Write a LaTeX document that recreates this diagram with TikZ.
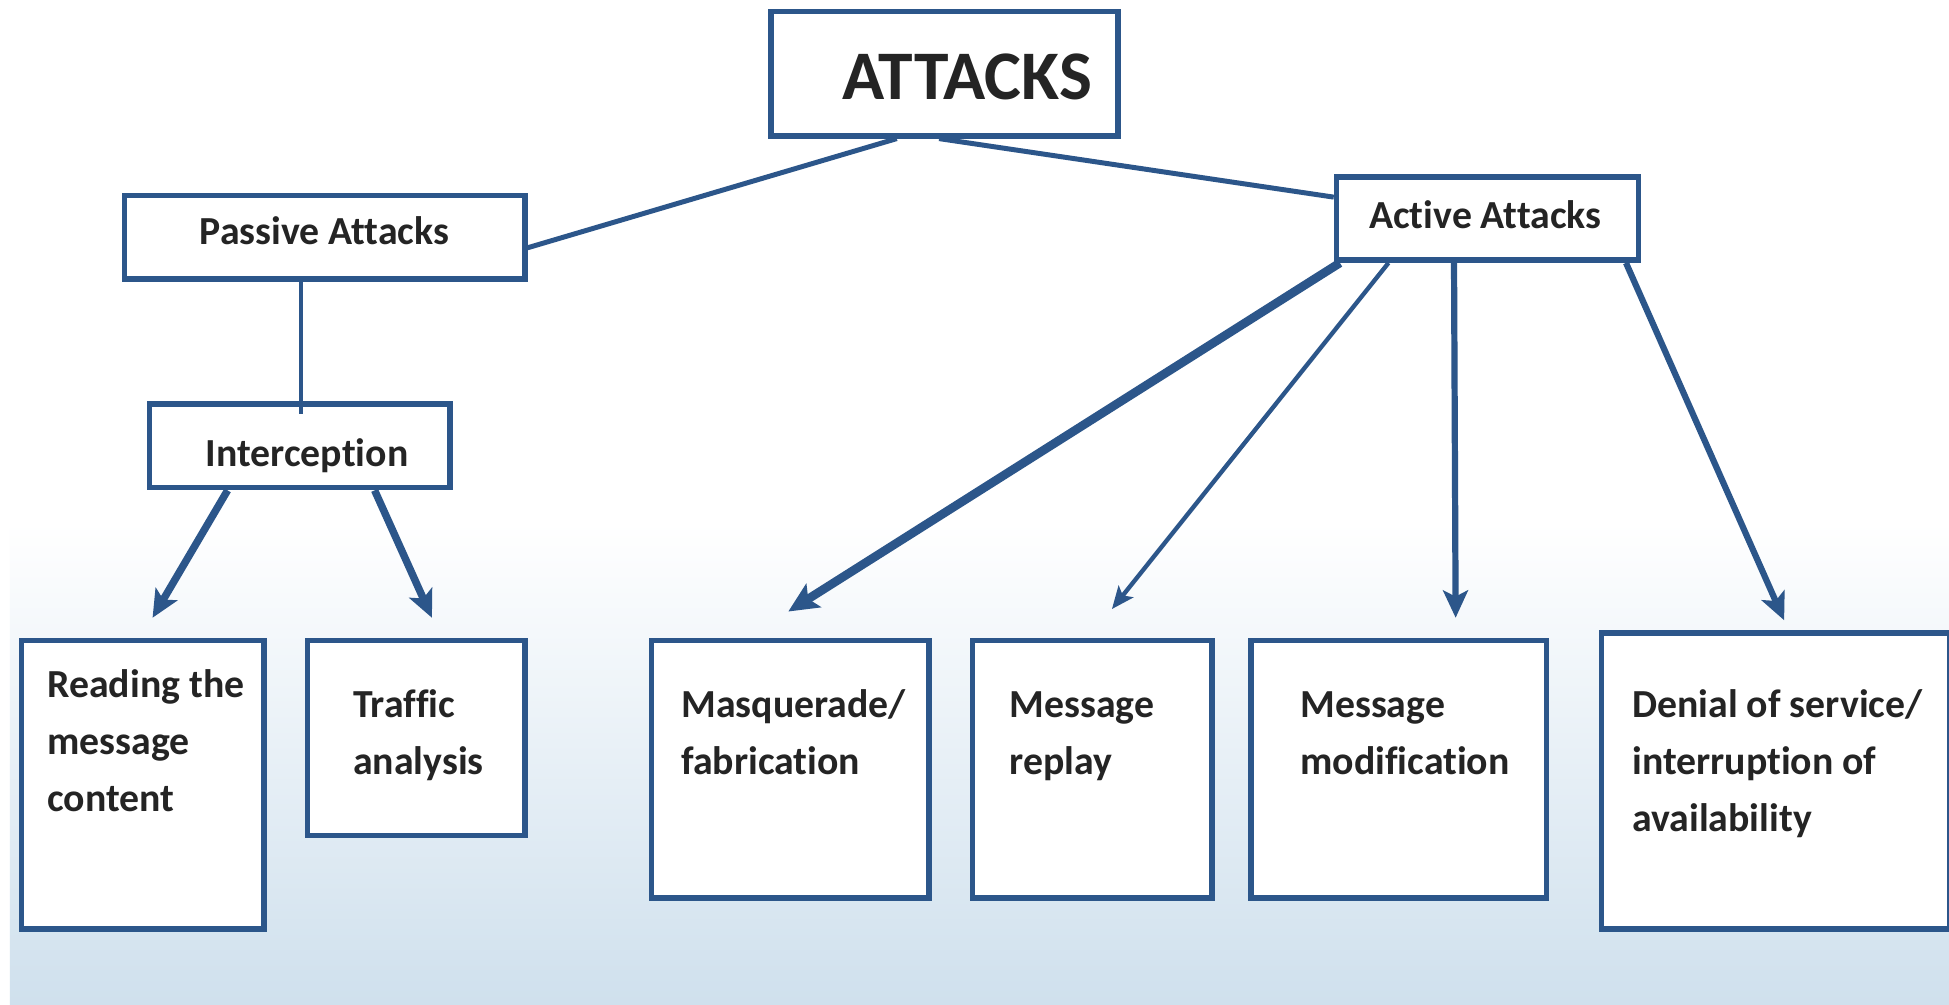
\documentclass[tikz,border=0pt]{standalone}
\usepackage{fontspec}
\setmainfont[Ligatures=NoCommon]{Carlito}
\usetikzlibrary{arrows.meta,calc}
\definecolor{boxblue}{RGB}{44,86,138}
\definecolor{bgblue}{RGB}{207,224,237}
\definecolor{txtgray}{RGB}{36,36,36}
\begin{document}
\begin{tikzpicture}[x=1pt,y=-1pt,
  box/.style={draw=boxblue,line width=4.5pt,fill=white,anchor=north west,inner sep=0pt},
  lbl/.style={text=txtgray,font=\bfseries\fontsize{32}{46}\selectfont,inner sep=0pt},
  link/.style={draw=boxblue,line width=4pt},
  arr/.style={draw=boxblue,-{Stealth[length=22pt,width=20pt,inset=5pt]}}]
\useasboundingbox (0,0) rectangle (1568,808);
\fill[white] (0,0) rectangle (1568,808);
\shade[top color=white,bottom color=bgblue] (8,420) rectangle (1568,808);
% boxes
\node[box,minimum width=279pt,minimum height=100pt] (att) at (618,7) {};
\node[box,minimum width=322pt,minimum height=67pt] (pas) at (98,155) {};
\node[box,minimum width=243pt,minimum height=67pt] (act) at (1073,140) {};
\node[box,minimum width=242pt,minimum height=67pt] (int) at (118,323) {};
\node[box,minimum width=195pt,minimum height=232pt] (rd) at (15,513) {};
\node[box,minimum width=175pt,minimum height=157pt] (tr) at (245,513) {};
\node[box,minimum width=223pt,minimum height=207pt] (mq) at (522,513) {};
\node[box,minimum width=193pt,minimum height=207pt] (rp) at (780,513) {};
\node[box,minimum width=238pt,minimum height=207pt] (md) at (1004,513) {};
\node[box,minimum width=280pt,minimum height=238pt] (dos) at (1286,507) {};
% texts
\node[lbl,font=\bfseries\fontsize{56}{60}\selectfont,anchor=base] (attT) at (778,80) {ATTACKS};
\node[lbl,anchor=base] (pasT) at (261,197) {Passive Attacks};
\node[lbl,anchor=base] (actT) at (1195,184) {Active Attacks};
\node[lbl,anchor=base] (intT) at (247,375) {Interception};
\node[lbl,anchor=base west] (rdT) at (38,561) {\begin{tabular}[t]{@{}l@{}}Reading the\\message\\content\end{tabular}};
\node[lbl,anchor=base west] (trT) at (284,577) {\begin{tabular}[t]{@{}l@{}}Traffic\\analysis\end{tabular}};
\node[lbl,anchor=base west] (mqT) at (548,577) {\begin{tabular}[t]{@{}l@{}}Masquerade/\\fabrication\end{tabular}};
\node[lbl,anchor=base west] (rpT) at (812,577) {\begin{tabular}[t]{@{}l@{}}Message\\replay\end{tabular}};
\node[lbl,anchor=base west] (mdT) at (1046,577) {\begin{tabular}[t]{@{}l@{}}Message\\modification\end{tabular}};
\node[lbl,anchor=base west] (dosT) at (1313,577) {\begin{tabular}[t]{@{}l@{}}Denial of service/\\interruption of\\availability\end{tabular}};
% connectors
\draw[link] ($(att.south west)!0.365!(att.south east)$) -- ($(pas.north east)!0.62!(pas.south east)$);
\draw[link] ($(att.south west)!0.485!(att.south east)$) -- ($(act.north west)!0.26!(act.south west)$);
\coordinate (pi) at ($(pas.south west)!0.441!(pas.south east)$);
\draw[link,line width=3.5pt] (pi) -- ($(pi |- int.north)+(0,10)$);
\draw[arr,line width=6pt] ($(int.south west)!0.264!(int.south east)$) -- ($(rd.north west)!0.54!(rd.north east)+(0,-16)$);
\draw[arr,line width=6pt] ($(int.south west)!0.744!(int.south east)$) -- ($(tr.north west)!0.571!(tr.north east)+(0,-16)$);
\draw[arr,line width=7pt,-{Stealth[length=24pt,width=22pt,inset=5pt]}] ($(act.south west)!0.02!(act.south east)$) -- ($(mq.north west)!0.493!(mq.north east)+(0,-21)$);
\draw[arr,line width=3.5pt,-{Stealth[length=18pt,width=15pt,inset=4pt]}] ($(act.south west)!0.178!(act.south east)$) -- ($(rp.north west)!0.58!(rp.north east)+(0,-23)$);
\draw[arr,line width=5pt] ($(act.south west)!0.391!(act.south east)$) -- ($(md.north west)!0.689!(md.north east)+(0,-16)$);
\draw[arr,line width=5pt] ($(act.south west)!0.95!(act.south east)$) -- ($(dos.north west)!0.525!(dos.north east)+(0,-8)$);
\end{tikzpicture}
\end{document}
